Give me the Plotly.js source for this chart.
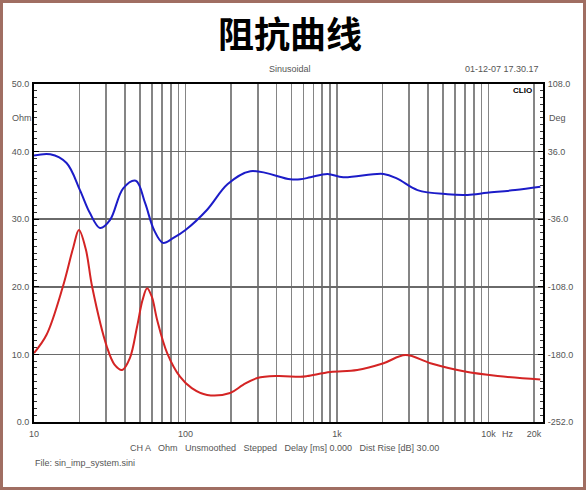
<!DOCTYPE html>
<html>
<head>
<meta charset="utf-8">
<script src="https://cdn.plot.ly/plotly-3.0.1.min.js"></script>
<style>html,body{margin:0;padding:0;background:#fff;}#chart{width:588px;height:500px;}</style>
</head>
<body>
<div id="chart"></div>
<script>
// Impedance magnitude (Ohm) – red curve
const magFreq = [10, 12.1, 15.5, 18.2, 19.8, 22, 24.2, 30.3, 34, 38.2, 43, 47.9, 52, 55.8, 60, 65, 75.7, 92, 110, 139, 197, 240, 298, 403, 573, 637, 904, 1360, 2030, 2830, 4140, 6860, 11500, 22000];
const magOhm  = [10.2, 12.9, 20, 25.9, 28.4, 25.5, 20, 11.1, 8.5, 7.7, 9.5, 14.1, 18, 19.8, 18.5, 15.1, 10.2, 6.7, 5.0, 4.0, 4.3, 5.5, 6.5, 6.8, 6.7, 6.8, 7.4, 7.7, 8.7, 9.9, 8.7, 7.5, 6.8, 6.3];
// Impedance phase (Deg) – blue curve
const phFreq = [10, 12.8, 16.4, 20.1, 23.4, 27.3, 31.8, 38.8, 47, 54.1, 62, 71, 82.7, 100, 139, 190, 268, 492, 573, 667, 865, 1100, 2030, 2500, 3400, 5370, 7280, 9800, 15000, 22000];
const phDeg   = [31.7, 33.1, 23.8, -5.0, -29.5, -45.4, -36.7, -3.1, 5.0, -18.7, -47.5, -61.2, -56.2, -47.5, -25.9, 1.4, 15.1, 6.5, 6.5, 8.6, 12.2, 8.6, 12.2, 7.2, -5.0, -9.4, -10.1, -7.9, -5.0, -1.4];

const xTickVals = [10, 100, 1000, 10000, 20000];
const xTickText = ['10', '100', '1k', '10k', '20k'];
const yTickVals = [0, 10, 20, 30, 40, 50];
const yTickText = ['0.0', '10.0', '20.0', '30.0', '40.0', '50.0'];
const y2TickVals = [-252, -180, -108, -36, 36, 108];
const y2TickText = ['-252.0', '-180.0', '-108.0', '-36.0', '36.0', '108.0'];
const xMinorVals = [20,30,40,50,60,70,80,90,200,300,400,500,600,700,800,900,2000,3000,4000,5000,6000,7000,8000,9000];

// plot-area geometry in pixels
const L = 34, R = 543, T = 84, B = 422;
const px = x => (x - L) / (R - L);
const py = y => (B - y) / (B - T);

const tickFont = {family: 'Liberation Sans, Arial, sans-serif', size: 9, color: '#555'};
const gridC = '#858585';

const traces = [
  {x: magFreq, y: magOhm, type: 'scatter', mode: 'lines', line: {color: '#d42424', width: 2, shape: 'spline', smoothing: 1}, xaxis: 'x', yaxis: 'y', hoverinfo: 'skip'},
  {x: phFreq, y: phDeg, type: 'scatter', mode: 'lines', line: {color: '#1c1cc8', width: 2, shape: 'spline', smoothing: 1}, xaxis: 'x', yaxis: 'y2', hoverinfo: 'skip'}
];

function ann(text, x, y, opts) {
  return Object.assign({text: text, x: px(x), y: py(y), xref: 'paper', yref: 'paper', showarrow: false,
    font: tickFont, xanchor: 'left', yanchor: 'middle'}, opts || {});
}

const layout = {
  width: 588, height: 500,
  margin: {l: L, r: 588 - R, t: T, b: 500 - B},
  paper_bgcolor: '#ffffff', plot_bgcolor: '#ffffff',
  showlegend: false,
  title: {text: '阻抗曲线', font: {family: 'Noto Sans CJK SC', size: 36, color: '#000', weight: 'bold'}, x: 0.493, xanchor: 'center', y: 0.93, yanchor: 'middle'},
  xaxis: {type: 'log', range: [1, 4.36], tickmode: 'array', tickvals: xTickVals, ticktext: xTickText,
    showgrid: true, gridcolor: gridC, gridwidth: 1.6, ticks: '', tickfont: tickFont,
    showline: true, linecolor: '#000', linewidth: 2, mirror: true, zeroline: false, ticklabelstandoff: 2,
    minor: {tickmode: 'array', tickvals: xMinorVals, showgrid: true, gridcolor: gridC, gridwidth: 1.6, ticks: ''}},
  yaxis: {range: [0, 50], tickmode: 'array', tickvals: yTickVals, ticktext: yTickText,
    showgrid: true, gridcolor: '#6a6a6a', gridwidth: 1.6, ticks: 'inside', ticklen: 5, tickcolor: '#000', tickfont: tickFont,
    showline: true, linecolor: '#000', linewidth: 2, mirror: true, zeroline: false, ticklabelstandoff: 1,
    minor: {dtick: 1, tick0: 0, ticks: 'inside', ticklen: 3, tickcolor: '#333', showgrid: false}},
  yaxis2: {range: [-252, 108], overlaying: 'y', side: 'right', tickmode: 'array', tickvals: y2TickVals, ticktext: y2TickText,
    showgrid: false, ticks: 'inside', ticklen: 5, tickcolor: '#000', tickfont: tickFont,
    showline: true, linecolor: '#000', linewidth: 2, zeroline: false, ticklabelstandoff: 1,
    minor: {dtick: 7.2, tick0: -252, ticks: 'inside', ticklen: 3, tickcolor: '#333', showgrid: false}},
  annotations: [
    ann('Sinusoidal', 290, 69, {xanchor: 'center'}),
    ann('01-12-07 17.30.17', 541, 69, {xanchor: 'right'}),
    ann('<b>CLIO</b>', 534, 90, {xanchor: 'right', font: {family: 'Liberation Sans, Arial, sans-serif', size: 8, color: '#000'}}),
    ann('Ohm', 10, 118),
    ann('Deg', 547, 118),
    ann('Hz', 500, 434),
    ann('CH A   Ohm   Unsmoothed   Stepped   Delay [ms] 0.000   Dist Rise [dB] 30.00', 128, 448),
    ann('File: sin_imp_system.sini', 33, 463)
  ],
  shapes: [
    {type: 'rect', xref: 'paper', yref: 'paper', x0: px(1.5), x1: px(584.5), y0: py(488.5), y1: py(1.5),
     line: {color: '#a06e62', width: 3}, fillcolor: 'rgba(0,0,0,0)', layer: 'above'}
  ]
};

Plotly.newPlot('chart', traces, layout, {staticPlot: true, displayModeBar: false});
</script>
</body>
</html>
